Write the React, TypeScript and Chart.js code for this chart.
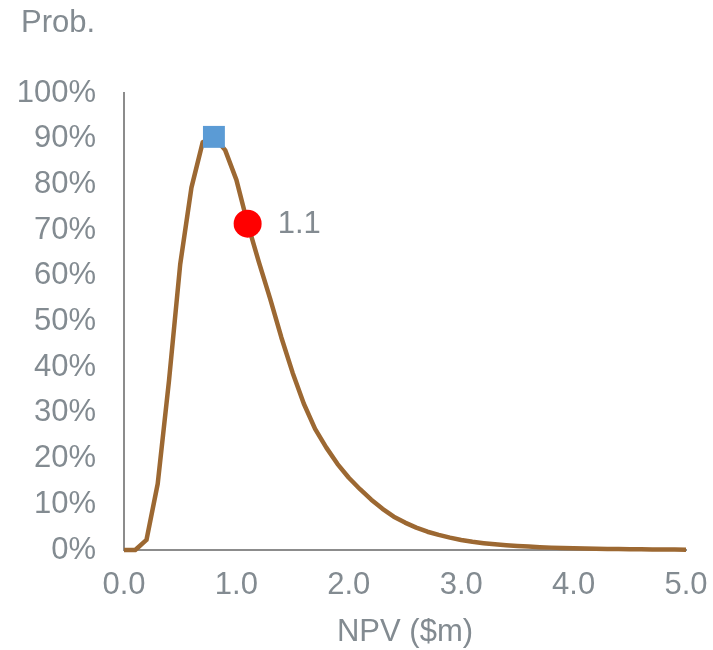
import React, { useEffect, useRef } from "react";
import { Chart, registerables } from "chart.js";

Chart.register(...registerables);

const npv = [
  0.0, 0.1, 0.2, 0.3, 0.4, 0.5, 0.6, 0.7, 0.8, 0.9,
  1.0, 1.1, 1.2, 1.3, 1.4, 1.5, 1.6, 1.7, 1.8, 1.9,
  2.0, 2.1, 2.2, 2.3, 2.4, 2.5, 2.6, 2.7, 2.8, 2.9,
  3.0, 3.1, 3.2, 3.3, 3.4, 3.5, 3.6, 3.7, 3.8, 3.9,
  4.0, 4.1, 4.2, 4.3, 4.4, 4.5, 4.6, 4.7, 4.8, 4.9, 5.0,
];
const prob = [
  0, 0, 2.2, 14.5, 37, 62.5, 79.3, 89.2, 90.4, 87.5,
  81, 71.4, 63, 55, 46.5, 38.8, 32, 26.5, 22.4, 18.8,
  15.8, 13.3, 11, 9, 7.3, 6, 4.9, 4.0, 3.3, 2.7,
  2.2, 1.8, 1.5, 1.25, 1.05, 0.88, 0.74, 0.62, 0.52, 0.45,
  0.38, 0.33, 0.28, 0.24, 0.21, 0.18, 0.15, 0.13, 0.11, 0.09, 0.08,
];
const modeX = [0.8];
const modeY = [90.4];
const meanX = [1.1];
const meanY = [71.4];
const meanLabels = ["1.1"];
const xTicks = [0, 1, 2, 3, 4, 5];
const yTitle = "Prob.";
const xTitle = "NPV ($m)";

const TEXT = "#838B91";
const AXIS = "#8C8C8C";
const FONT = "'Liberation Sans', Arial, sans-serif";
const FS = 31;

export default function App() {
  const ref = useRef<HTMLCanvasElement>(null);

  useEffect(() => {
    document.body.style.margin = "0";
    const canvas = ref.current!;
    const labelPlugin = {
      id: "labels",
      afterDraw(chart: any) {
        const ctx = chart.ctx;
        ctx.save();
        ctx.fillStyle = TEXT;
        ctx.font = `${FS}px ${FONT}`;
        ctx.textBaseline = "middle";
        ctx.textAlign = "left";
        ctx.fillText(yTitle, 21, 23);
        const meta = chart.getDatasetMeta(1);
        meta.data.forEach((el: any, i: number) => {
          ctx.fillText(meanLabels[i], el.x + 30, el.y + 1);
        });
        ctx.restore();
      },
    };
    const chart = new Chart(canvas, {
      type: "line",
      data: {
        datasets: [
          {
            label: "Mode",
            data: modeX.map((x, i) => ({ x, y: modeY[i] })),
            showLine: false,
            pointStyle: "rect",
            pointRadius: 15.5,
            pointBackgroundColor: "#5B9BD5",
            pointBorderWidth: 0,
            borderColor: "#5B9BD5",
            clip: false,
          },
          {
            label: "Mean",
            data: meanX.map((x, i) => ({ x, y: meanY[i] })),
            showLine: false,
            pointStyle: "circle",
            pointRadius: 14,
            pointBackgroundColor: "#FF0000",
            pointBorderWidth: 0,
            borderColor: "#FF0000",
            clip: false,
          },
          {
            label: "PDF",
            data: npv.map((x, i) => ({ x, y: prob[i] })),
            borderColor: "#9C6832",
            borderWidth: 4.5,
            pointRadius: 0,
            tension: 0,
            borderJoinStyle: "round",
            borderCapStyle: "butt",
            clip: false,
          },
        ],
      },
      options: {
        animation: false,
        responsive: false,
        maintainAspectRatio: false,
        events: [],
        layout: { padding: { top: 93, left: 0, right: 27, bottom: 0 } },
        plugins: {
          legend: { display: false },
          tooltip: { enabled: false },
          title: { display: false },
        },
        scales: {
          x: {
            type: "linear",
            min: 0,
            max: 5,
            afterFit: (s: any) => {
              s.height = 100;
              s.paddingLeft = 0;
              s.paddingRight = 0;
            },
            afterBuildTicks: (s: any) => {
              s.ticks = xTicks.map((v) => ({ value: v }));
            },
            grid: { display: false, drawTicks: false },
            border: { display: true, color: AXIS, width: 2 },
            ticks: {
              color: TEXT,
              font: { family: FONT, size: FS },
              padding: 17,
              maxRotation: 0,
              callback: (v: any) => Number(v).toFixed(1),
            },
            title: {
              display: true,
              text: xTitle,
              color: TEXT,
              font: { family: FONT, size: FS, lineHeight: 1.1 },
              padding: { top: 0, bottom: 0 },
            },
          },
          y: {
            type: "linear",
            min: 0,
            max: 100,
            afterFit: (s: any) => {
              s.width = 124;
            },
            grid: { display: false, drawTicks: false },
            border: { display: true, color: AXIS, width: 2 },
            ticks: {
              stepSize: 10,
              color: TEXT,
              font: { family: FONT, size: FS },
              padding: 28,
              callback: (v: any) => `${v}%`,
            },
          },
        },
      },
      plugins: [labelPlugin],
    } as any);
    return () => chart.destroy();
  }, []);

  return (
    <div style={{ width: 713, height: 650 }}>
      <canvas ref={ref} width={713} height={650} style={{ display: "block" }} />
    </div>
  );
}
